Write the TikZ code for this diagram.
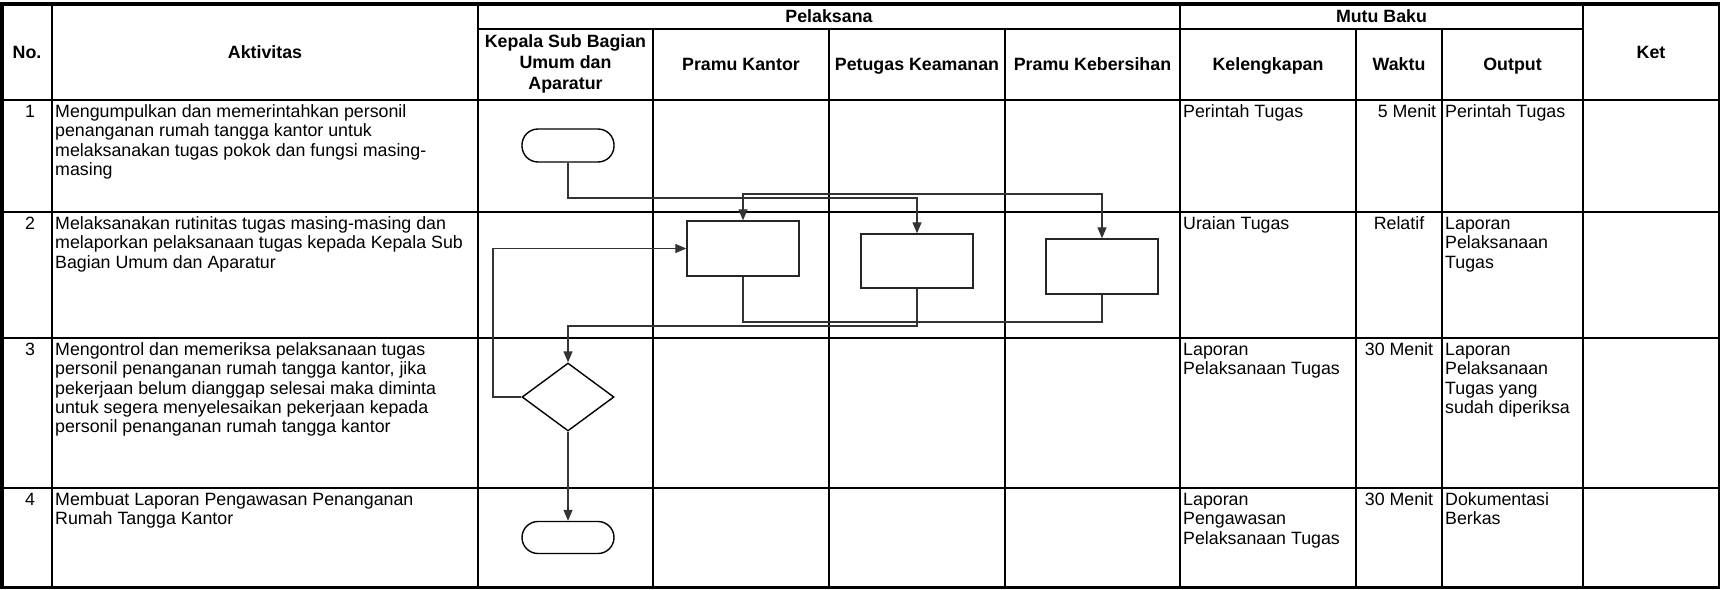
\documentclass[tikz,border=0pt]{standalone}
\usepackage{fontspec}
\setmainfont{Liberation Sans}
\usetikzlibrary{arrows.meta,shapes.geometric}
\newcommand{\mycell}[1]{\begin{tabular}[t]{@{}l@{}}#1\end{tabular}}
\newcommand{\myhcell}[1]{\begin{tabular}[t]{@{}c@{}}#1\end{tabular}}
\begin{document}
\begin{tikzpicture}[x=1pt,y=-1pt,
  every node/.style={font=\fontsize{17.8}{19.3}\selectfont},
  grid/.style={line width=2.4pt},
  outer/.style={line width=3.5pt},
  txt/.style={inner sep=0pt, anchor=base west},
  num/.style={inner sep=0pt, anchor=base},
  hdr/.style={inner sep=0pt, anchor=base, font=\fontsize{17.8}{21}\selectfont\bfseries},
  flow/.style={line width=1.3pt, draw=black!80},
  tip/.style={-{Triangle[length=11pt,width=9pt]}},
  boxnode/.style={draw=black!85, line width=1.4pt, minimum width=112pt, minimum height=55pt, inner sep=0pt},
  term/.style={draw=black, line width=1.4pt, minimum width=92pt, minimum height=33pt, rounded corners=16pt, inner sep=0pt},
  decision/.style={draw=black, line width=1.4pt, diamond, minimum width=92pt, minimum height=68pt, inner sep=0pt}]
\useasboundingbox (0,0) rectangle (1720,589);
\fill[white] (0,0) rectangle (1720,589);
% table grid
\draw[grid] (478,29) -- (1583,29);
\draw[grid] (2,100) -- (1719,100);
\draw[grid] (2,212) -- (1719,212);
\draw[grid] (2,338) -- (1719,338);
\draw[grid] (2,488) -- (1719,488);
\draw[grid] (52,4) -- (52,588);
\draw[grid] (478,4) -- (478,588);
\draw[grid] (653,29) -- (653,588);
\draw[grid] (829,29) -- (829,588);
\draw[grid] (1005,29) -- (1005,588);
\draw[grid] (1180,4) -- (1180,588);
\draw[grid] (1356,29) -- (1356,588);
\draw[grid] (1442,29) -- (1442,588);
\draw[grid] (1583,4) -- (1583,588);
\draw[line width=1.5pt] (1719.2,4) -- (1719.2,588);
\draw[outer] (0,4) -- (1720,4);
\draw[line width=3pt] (0,587.5) -- (1720,587.5);
\draw[outer] (1.75,2) -- (1.75,589);
% headers
\node[hdr] (hno) at (27,58) {No.};
\node[hdr] (hakt) at (265,58) {Aktivitas};
\node[hdr] (hpel) at (829,22) {Pelaksana};
\node[hdr] (hmutu) at (1381.5,22) {Mutu Baku};
\node[hdr] (hket) at (1651,58) {Ket};
\node[hdr] (hkep) at (565.5,47) {\myhcell{Kepala Sub Bagian\\Umum dan\\Aparatur}};
\node[hdr] (hpk) at (741,70) {Pramu Kantor};
\node[hdr] (hpkeam) at (917,70) {Petugas Keamanan};
\node[hdr] (hpkeb) at (1092.5,70) {Pramu Kebersihan};
\node[hdr] (hkel) at (1268,70) {Kelengkapan};
\node[hdr] (hwak) at (1399,70) {Waktu};
\node[hdr] (hout) at (1512.5,70) {Output};
% row 1
\node[num] (n1) at (30,117.5) {1};
\node[txt] (a1) at (55,117.5) {\mycell{Mengumpulkan dan memerintahkan personil\\penanganan rumah tangga kantor untuk\\melaksanakan tugas pokok dan fungsi masing-\\masing}};
\node[txt] (k1) at (1183,117.5) {Perintah Tugas};
\node[num] (w1) at (1407,117.5) {5 Menit};
\node[txt] (o1) at (1445,117.5) {Perintah Tugas};
% row 2
\node[num] (n2) at (30,229.5) {2};
\node[txt] (a2) at (55,229.5) {\mycell{Melaksanakan rutinitas tugas masing-masing dan\\melaporkan pelaksanaan tugas kepada Kepala Sub\\Bagian Umum dan Aparatur}};
\node[txt] (k2) at (1183,229.5) {Uraian Tugas};
\node[num] (w2) at (1399,229.5) {Relatif};
\node[txt] (o2) at (1445,229.5) {\mycell{Laporan\\Pelaksanaan\\Tugas}};
% row 3
\node[num] (n3) at (30,355.5) {3};
\node[txt] (a3) at (55,355.5) {\mycell{Mengontrol dan memeriksa pelaksanaan tugas\\personil penanganan rumah tangga kantor, jika\\pekerjaan belum dianggap selesai maka diminta\\untuk segera menyelesaikan pekerjaan kepada\\personil penanganan rumah tangga kantor}};
\node[txt] (k3) at (1183,355.5) {\mycell{Laporan\\Pelaksanaan Tugas}};
\node[num] (w3) at (1399,355.5) {30 Menit};
\node[txt] (o3) at (1445,355.5) {\mycell{Laporan\\Pelaksanaan\\Tugas yang\\sudah diperiksa}};
% row 4
\node[num] (n4) at (30,505.5) {4};
\node[txt] (a4) at (55,505.5) {\mycell{Membuat Laporan Pengawasan Penanganan\\Rumah Tangga Kantor}};
\node[txt] (k4) at (1183,505.5) {\mycell{Laporan\\Pengawasan\\Pelaksanaan Tugas}};
\node[num] (w4) at (1399,505.5) {30 Menit};
\node[txt] (o4) at (1445,505.5) {\mycell{Dokumentasi\\Berkas}};
% flowchart shapes
\node[term] (start) at (568,145.5) {};
\node[boxnode] (b1) at (743,248.5) {};
\node[boxnode, minimum height=54pt] (b2) at (917,261) {};
\node[boxnode] (b3) at (1102,266.5) {};
\node[decision] (dec) at (568,397) {};
\node[term, minimum height=32pt] (finish) at (568,537.5) {};
% connector junctions
\coordinate (j1) at (917,198);
\coordinate (f3) at (1102,194);
\coordinate (j2) at (568,326);
\coordinate (j3) at (1102,322);
\coordinate (j4) at (493,248.5);
% connectors
\draw[flow, tip] (start.south) |- (j1) -- (b2.north);
\draw[flow, {Triangle[length=11pt,width=9pt]}-{Triangle[length=11pt,width=9pt]}] (b1.north) |- (f3) -- (b3.north);
\draw[flow] (b1.south) |- (j3) -- (b3.south);
\draw[flow, tip] (b2.south) |- (j2) -- (dec.north);
\draw[flow, tip] (dec.west) -| (j4) -- (b1.west);
\draw[flow, tip] (dec.south) -- (finish.north);
\end{tikzpicture}
\end{document}
